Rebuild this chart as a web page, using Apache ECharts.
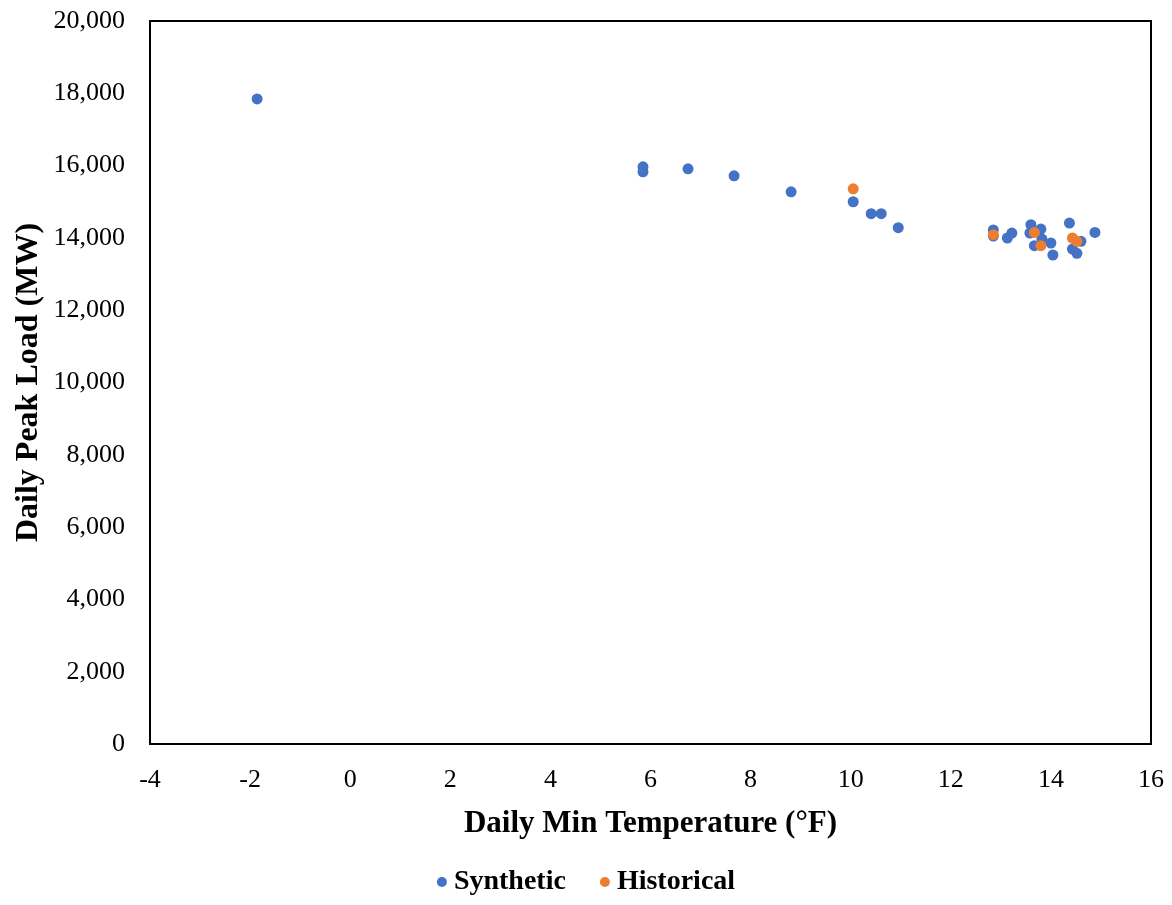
<!DOCTYPE html>
<html>
<head>
    <meta charset="utf-8" />
    <title>Daily Peak Load vs Daily Min Temperature</title>
    <style>
        html, body { margin: 0; padding: 0; background: #fff; }
        #chart { width: 1172px; height: 905px; }
    </style>
</head>
<body>
    <div id="chart"></div>
    <script src="https://cdn.jsdelivr.net/npm/echarts@6/dist/echarts.min.js"></script>
    <script>
        // series names
        var seriesNames = ['Synthetic', 'Historical'];
        // synthetic points: temperature (°F) and peak load (MW)
        var synTemp = [-1.86, 5.85, 5.85, 6.75, 7.67, 8.81, 10.05, 10.41, 10.61, 10.95,
            12.85, 12.85, 13.13, 13.22, 13.60, 13.58, 13.80, 13.82, 13.67, 14.00, 14.04,
            14.37, 14.43, 14.52, 14.60, 14.88];
        var synLoad = [17845, 15967, 15829, 15912, 15718, 15276, 15000, 14669, 14669, 14282,
            14219, 14050, 13997, 14135, 14365, 14135, 14245, 13970, 13785, 13859, 13527,
            14411, 13692, 13572, 13904, 14152];
        // historical points
        var histTemp = [10.05, 12.85, 13.67, 13.80, 14.43, 14.52];
        var histLoad = [15359, 14088, 14152, 13785, 13997, 13904];

        var colors = ['#4472c4', '#ed7d31'];
        var font = 'Liberation Serif, Times New Roman, serif';

        function pairs(xs, ys) {
            var out = [];
            for (var i = 0; i < xs.length; i++) {
                out.push([xs[i], ys[i]]);
            }
            return out;
        }

        var chart = echarts.init(document.getElementById('chart'));
        var option = {
            backgroundColor: '#fff',
            color: colors,
            animation: false,
            grid: {
                left: 150,
                right: 21,
                top: 21,
                bottom: 161,
                show: true,
                borderColor: '#000',
                borderWidth: 2
            },
            legend: {
                bottom: 4,
                left: 'center',
                icon: 'circle',
                itemWidth: 10,
                itemHeight: 10,
                itemGap: 34,
                data: seriesNames,
                textStyle: {
                    fontFamily: font,
                    fontWeight: 'bold',
                    fontSize: 28,
                    color: '#000',
                    padding: [0, 0, 0, 2]
                }
            },
            xAxis: {
                type: 'value',
                min: -4,
                max: 16,
                interval: 2,
                name: 'Daily Min Temperature (°F)',
                nameLocation: 'middle',
                nameGap: 64,
                nameMoveOverlap: false,
                nameTextStyle: {
                    fontFamily: font,
                    fontWeight: 'bold',
                    fontSize: 31,
                    color: '#000'
                },
                axisLine: { show: true, onZero: false, lineStyle: { color: '#000', width: 2 } },
                axisTick: { show: false },
                splitLine: { show: false },
                axisLabel: {
                    fontFamily: font,
                    fontSize: 26,
                    color: '#000',
                    margin: 23
                }
            },
            yAxis: {
                type: 'value',
                min: 0,
                max: 20000,
                interval: 2000,
                name: 'Daily Peak Load (MW)',
                nameLocation: 'middle',
                nameGap: 105,
                nameMoveOverlap: false,
                nameTextStyle: {
                    fontFamily: font,
                    fontWeight: 'bold',
                    fontSize: 32,
                    color: '#000'
                },
                axisLine: { show: true, onZero: false, lineStyle: { color: '#000', width: 2 } },
                axisTick: { show: false },
                splitLine: { show: false },
                axisLabel: {
                    fontFamily: font,
                    fontSize: 26,
                    color: '#000',
                    margin: 25,
                    formatter: function (v) { return v.toLocaleString('en-US'); }
                }
            },
            series: [
                {
                    name: seriesNames[0],
                    type: 'scatter',
                    symbolSize: 11,
                    itemStyle: { opacity: 1 },
                    data: pairs(synTemp, synLoad)
                },
                {
                    name: seriesNames[1],
                    type: 'scatter',
                    symbolSize: 11,
                    itemStyle: { opacity: 1 },
                    data: pairs(histTemp, histLoad)
                }
            ]
        };
        chart.setOption(option);
    </script>
</body>
</html>
